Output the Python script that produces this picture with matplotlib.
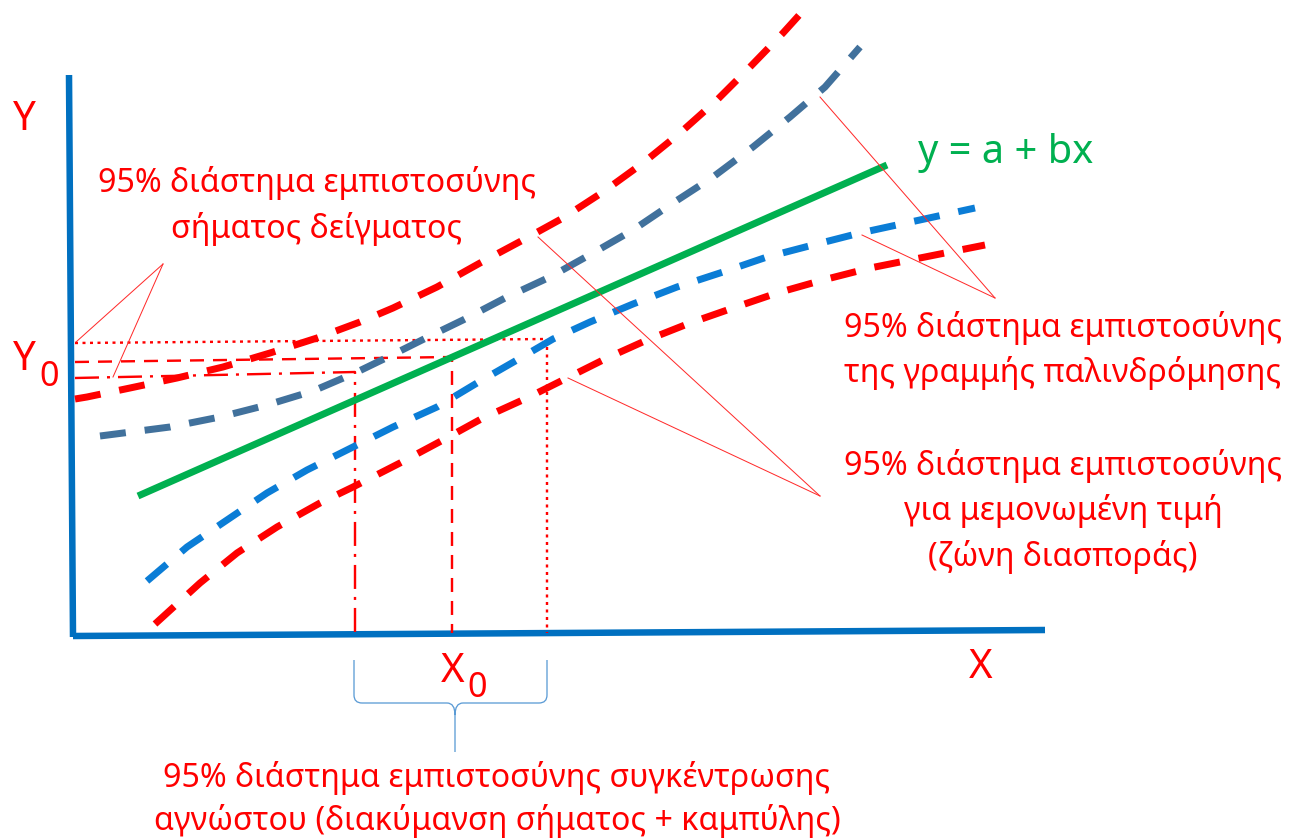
import matplotlib
matplotlib.use('Agg')
import matplotlib.pyplot as plt
from matplotlib.path import Path
from matplotlib.patches import PathPatch

plt.rcParams['font.family'] = ['Noto Sans', 'DejaVu Sans']
plt.rcParams['lines.scale_dashes'] = False

# ---------------- data (pixel units, y downwards) -------------
axis_y_x = [69, 73]
axis_y_y = [75, 637]
axis_x_x = [73, 1045]
axis_x_y = [636, 630]

green_x = [138, 887]
green_y = [496, 165]

red_up_x = [75, 87, 130, 177, 223, 270, 317, 360, 393, 437, 480, 523, 563, 603, 643, 680, 717, 750, 783, 802]
red_up_y = [399, 397, 388, 378, 367, 353, 338, 322, 308, 287, 263, 240, 218, 192, 163, 133, 100, 67, 33, 12]

dblue_x = [100, 170, 220, 267, 313, 355, 388, 430, 463, 507, 550, 593, 633, 673, 713, 753, 790, 825, 860]
dblue_y = [436, 427, 417, 405, 391, 373, 357, 336, 320, 297, 277, 253, 230, 203, 177, 147, 117, 87, 47]

blue_lo_x = [147, 187, 227, 267, 307, 353, 393, 437, 477, 517, 553, 590, 633, 677, 723, 767, 813, 860, 975]
blue_lo_y = [581, 547, 520, 493, 470, 447, 427, 407, 383, 360, 339, 322, 304, 287, 272, 257, 245, 233, 208]

red_lo_x = [155, 200, 237, 277, 320, 353, 400, 443, 483, 527, 567, 607, 647, 690, 733, 777, 823, 870, 985]
red_lo_y = [624, 583, 553, 527, 503, 487, 463, 440, 418, 398, 378, 358, 340, 323, 308, 293, 280, 268, 245]

# reference lines (Y0 levels and X0 levels)
dot_x = [75, 547, 547]
dot_y = [343, 339, 633]
dash_x = [75, 452, 452]
dash_y = [362, 357, 633]
dashdot_x = [75, 355, 355]
dashdot_y = [378, 372, 633]

# leader lines: (x0, y0, x1, y1)
leaders = [
    (163, 264, 76, 342),
    (163, 264, 113, 377),
    (820, 496, 538, 237),
    (820, 496, 568, 378),
    (995, 298, 820, 97),
    (995, 298, 862, 235),
]

# brace under X axis
brace_left, brace_mid, brace_right = 354, 455, 547
brace_top, brace_bar, brace_tip = 660, 703, 752

# texts
body_lines_tl = ["95% διάστημα εμπιστοσύνης", "σήματος δείγματος"]
body_lines_r1 = ["95% διάστημα εμπιστοσύνης", "της γραμμής παλινδρόμησης"]
body_lines_r2 = ["95% διάστημα εμπιστοσύνης", "για μεμονωμένη τιμή", "(ζώνη διασποράς)"]
body_lines_bot = ["95% διάστημα εμπιστοσύνης συγκέντρωσης",
                  "αγνώστου (διακύμανση σήματος + καμπύλης)"]
eq_text = "y = a + bx"

# ---------------- figure ---------------------------------------------------------------
W, H = 1289, 839
fig = plt.figure(figsize=(W / 100, H / 100), dpi=100)
ax = fig.add_axes([0, 0, 1, 1])
ax.set_xlim(0, W)
ax.set_ylim(H, 0)
ax.axis('off')

RED = '#FF0000'
GREEN = '#00B050'
AXBLUE = '#0070C0'
DBLUE = '#41719C'
LBLUE = '#0B7DD6'
BRACE = '#5B9BD5'
PX = 0.72  # points per pixel

renderer = fig.canvas.get_renderer()


def fit_size(s, width_px, base=20):
    t = ax.text(0, 0, s, fontsize=base)
    w = t.get_window_extent(renderer).width
    t.remove()
    return base * width_px / w


# axes
ax.plot(axis_y_x, axis_y_y, color=AXBLUE, lw=6.5 * PX, solid_capstyle='butt')
ax.plot(axis_x_x, axis_x_y, color=AXBLUE, lw=6.5 * PX, solid_capstyle='butt')

# reference lines
ref_lw = 2.4 * PX
ax.plot(dot_x, dot_y, color=RED, lw=ref_lw, dashes=(3 * PX, 4.5 * PX), dash_capstyle='butt')
ax.plot(dash_x, dash_y, color=RED, lw=ref_lw, dashes=(14 * PX, 9 * PX), dash_capstyle='butt')
ax.plot(dashdot_x, dashdot_y, color=RED, lw=ref_lw,
        dashes=(24 * PX, 8 * PX, 3 * PX, 8 * PX), dash_capstyle='butt')

# curves
thick = 7 * PX
dpat = (26 * PX, 19 * PX)
ax.plot(red_up_x, red_up_y, color=RED, lw=thick, dashes=dpat, dash_capstyle='butt')
ax.plot(dblue_x, dblue_y, color=DBLUE, lw=thick, dashes=dpat, dash_capstyle='butt')
ax.plot(blue_lo_x, blue_lo_y, color=LBLUE, lw=thick, dashes=dpat, dash_capstyle='butt')
ax.plot(red_lo_x, red_lo_y, color=RED, lw=thick, dashes=dpat, dash_capstyle='butt')
ax.plot(green_x, green_y, color=GREEN, lw=7 * PX, solid_capstyle='butt')

# leader lines
for x0, y0, x1, y1 in leaders:
    ax.plot([x0, x1], [y0, y1], color='#FF2a2a', lw=1.0 * PX)

# brace
r = 8
verts = [
    (brace_left, brace_top), (brace_left, brace_bar - r),
    (brace_left, brace_bar), (brace_left + r, brace_bar),
    (brace_mid - r, brace_bar),
    (brace_mid, brace_bar), (brace_mid, brace_bar + r + 4),
    (brace_mid, brace_tip),
    (brace_mid, brace_bar + r + 4),
    (brace_mid, brace_bar), (brace_mid + r, brace_bar),
    (brace_right - r, brace_bar),
    (brace_right, brace_bar), (brace_right, brace_bar - r),
    (brace_right, brace_top),
]
codes = [Path.MOVETO, Path.LINETO,
         Path.CURVE3, Path.CURVE3,
         Path.LINETO,
         Path.CURVE3, Path.CURVE3,
         Path.LINETO,
         Path.MOVETO,
         Path.CURVE3, Path.CURVE3,
         Path.LINETO,
         Path.CURVE3, Path.CURVE3,
         Path.LINETO]
ax.add_patch(PathPatch(Path(verts, codes), fill=False, edgecolor=BRACE, lw=1.3 * PX))

# texts
fs = fit_size(body_lines_tl[0], 438)
for s, yb in zip(body_lines_tl, [192, 238]):
    ax.text(317, yb, s, color=RED, fontsize=fs, ha='center', va='baseline')
for s, yb in zip(body_lines_r1, [337, 382]):
    ax.text(1063, yb, s, color=RED, fontsize=fs, ha='center', va='baseline')
for s, yb in zip(body_lines_r2, [475, 520, 566]):
    ax.text(1063, yb, s, color=RED, fontsize=fs, ha='center', va='baseline')
for s, yb in zip(body_lines_bot, [787, 830]):
    ax.text(497, yb, s, color=RED, fontsize=fs, ha='center', va='baseline')

fs_eq = fit_size(eq_text, 175)
ax.text(918, 163, eq_text, color=GREEN, fontsize=fs_eq, ha='left', va='baseline')

big = 29
ax.text(24, 130, "Y", color=RED, fontsize=big, ha='center', va='baseline')
ax.text(981, 678, "X", color=RED, fontsize=big, ha='center', va='baseline')
ax.text(13, 370, "Y", color=RED, fontsize=big, ha='left', va='baseline')
ax.text(39, 386, "0", color=RED, fontsize=big * 0.85, ha='left', va='baseline')
ax.text(441, 682, "X", color=RED, fontsize=big, ha='left', va='baseline')
ax.text(467, 697, "0", color=RED, fontsize=big * 0.85, ha='left', va='baseline')

fig.savefig('out.png', dpi=100)
